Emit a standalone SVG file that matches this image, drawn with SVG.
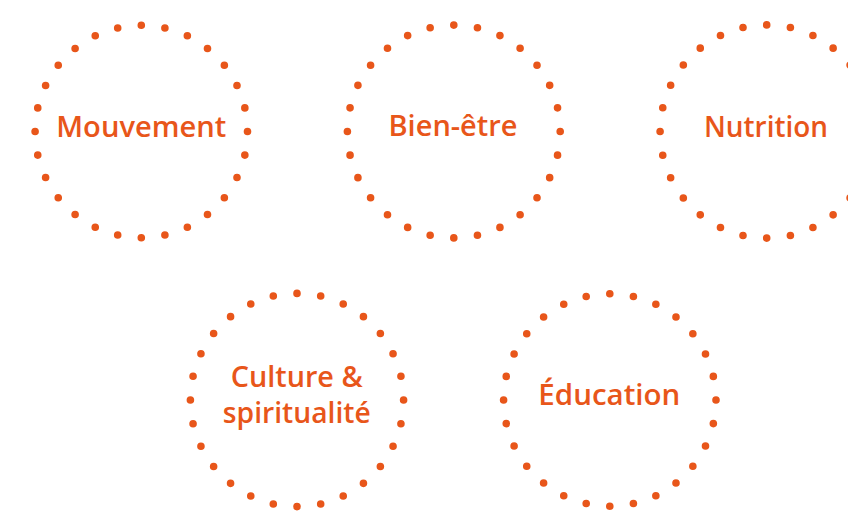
<svg xmlns="http://www.w3.org/2000/svg" width="848" height="511" viewBox="0 0 848 511">
  <style>
    .ring { fill: none; stroke: #E8561A; stroke-width: 7.6; stroke-linecap: round; stroke-dasharray: 0 1; }
    .label { font-family: "Open Sans", "Liberation Sans", sans-serif; font-weight: 600; font-size: 29px; fill: #E8561A; text-anchor: middle; }
  </style>
  <rect width="848" height="511" fill="#ffffff"/>
  <g id="connectors"></g>
  <g id="mouvement">
    <circle class="ring" cx="141.3" cy="131.5" r="106.2" pathLength="28"/>
    <text class="label" x="141.3" y="137" textLength="170" lengthAdjust="spacingAndGlyphs">Mouvement</text>
  </g>
  <g id="bien-etre">
    <circle class="ring" cx="453.8" cy="131.5" r="106.4" pathLength="28"/>
    <text class="label" x="453" y="136" textLength="129" lengthAdjust="spacingAndGlyphs">Bien-être</text>
  </g>
  <g id="nutrition">
    <circle class="ring" cx="766.7" cy="131.5" r="106.6" pathLength="28"/>
    <text class="label" x="766" y="136.5" textLength="124" lengthAdjust="spacingAndGlyphs">Nutrition</text>
  </g>
  <g id="culture-spiritualite">
    <circle class="ring" cx="297" cy="400" r="106.6" pathLength="28"/>
    <text class="label" x="296.7" y="387" textLength="132" lengthAdjust="spacingAndGlyphs">Culture &amp;</text>
    <text class="label" x="296.8" y="422.5" textLength="148" lengthAdjust="spacingAndGlyphs">spiritualité</text>
  </g>
  <g id="education">
    <circle class="ring" cx="609.8" cy="400" r="106.2" pathLength="28"/>
    <text class="label" x="609.3" y="405" textLength="142" lengthAdjust="spacingAndGlyphs">Éducation</text>
  </g>
</svg>
